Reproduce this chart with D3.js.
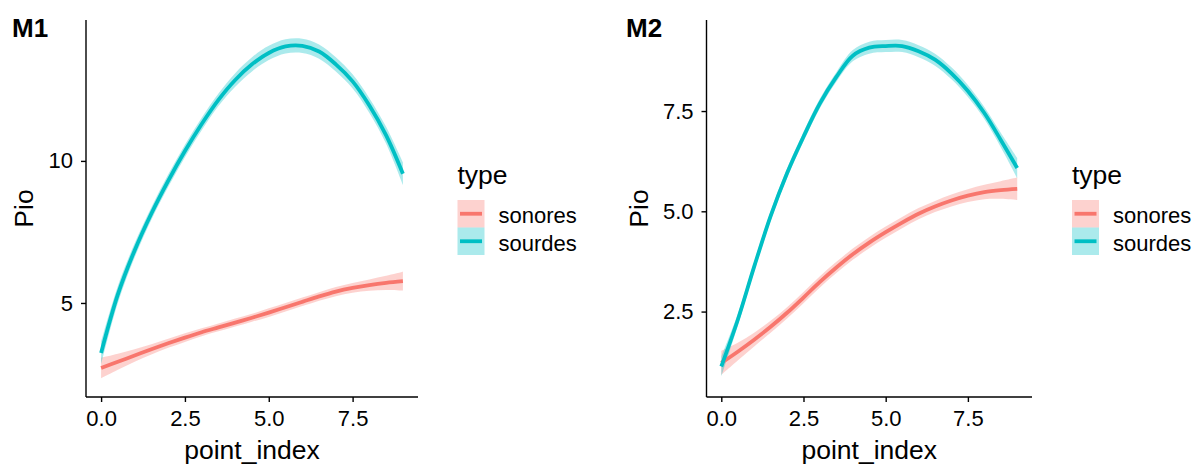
<!doctype html>
<html lang="en">
<head>
  <meta charset="utf-8">
  <title>Pio by point index</title>
  <script src="https://d3js.org/d3.v7.min.js"></script>
  <style>
  body { margin: 0; background: #fff; }
  text { font-family: "Liberation Sans", Arial, sans-serif; fill: #000; }
  .axis path, .axis line { stroke: #000; stroke-width: 1.4px; }
  </style>
</head>
<body>
<script>
  // x positions of the smoothed fits
  var pointIndex = [0, 0.5, 1, 1.5, 2, 2.5, 3, 3.5, 4, 4.5, 5, 5.5, 6, 6.5, 7, 7.5, 8, 8.5, 9];
  var types = ["sonores", "sourdes"];
  var typeColors = ["#F8766D", "#00BFC4"];

  // M1 fits (value) and half width of the confidence band
  var m1Sonores   = [2.71, 2.93, 3.15, 3.37, 3.58, 3.78, 3.97, 4.14, 4.31, 4.48, 4.66, 4.85, 5.04, 5.23, 5.40, 5.53, 5.63, 5.71, 5.77];
  var m1SonoresSe = [0.36, 0.28, 0.22, 0.18, 0.16, 0.15, 0.14, 0.14, 0.14, 0.14, 0.15, 0.15, 0.15, 0.15, 0.16, 0.17, 0.2, 0.25, 0.33];
  var m1Sourdes   = [3.24, 5.30, 6.85, 8.15, 9.30, 10.35, 11.30, 12.15, 12.85, 13.40, 13.80, 14.03, 14.05, 13.85, 13.40, 12.80, 11.95, 10.90, 9.55];
  var m1SourdesSe = [0.4, 0.3, 0.25, 0.22, 0.22, 0.22, 0.22, 0.22, 0.24, 0.25, 0.25, 0.25, 0.25, 0.25, 0.25, 0.25, 0.26, 0.3, 0.4];

  // M2
  var m2Sonores   = [1.22, 1.50, 1.80, 2.12, 2.47, 2.85, 3.24, 3.60, 3.93, 4.22, 4.48, 4.72, 4.94, 5.12, 5.27, 5.39, 5.48, 5.53, 5.56];
  var m2SonoresSe = [0.3, 0.22, 0.17, 0.15, 0.14, 0.14, 0.14, 0.14, 0.14, 0.14, 0.14, 0.14, 0.14, 0.14, 0.15, 0.16, 0.18, 0.22, 0.28];
  var m2Sourdes   = [1.13, 2.29, 3.62, 4.88, 5.95, 6.86, 7.69, 8.35, 8.88, 9.08, 9.12, 9.12, 8.99, 8.78, 8.44, 8.00, 7.45, 6.78, 6.08];
  var m2SourdesSe = [0.25, 0.15, 0.12, 0.12, 0.12, 0.12, 0.12, 0.12, 0.14, 0.15, 0.15, 0.15, 0.15, 0.15, 0.15, 0.15, 0.15, 0.18, 0.25];

  var xTicks = [0, 2.5, 5, 7.5];
  var m1YTicks = [5, 10];
  var m2YTicks = [2.5, 5, 7.5];

  var W = 1196, H = 466;
  var svg = d3.select("body").append("svg")
      .attr("width", W)
      .attr("height", H);

  var panels = [
    { tag: "M1", left: 86, right: 418, top: 20, bottom: 397,
      xdom: [-0.45, 9.45], ydom: [1.69, 14.96], yticks: m1YTicks, yfmt: d3.format("d"),
      series: [[m1Sonores, m1SonoresSe], [m1Sourdes, m1SourdesSe]],
      tagX: 12, titleX: 33, legendX: 457.5 },
    { tag: "M2", left: 706.5, right: 1032, top: 20, bottom: 397,
      xdom: [-0.45, 9.45], ydom: [0.37, 9.77], yticks: m2YTicks, yfmt: d3.format(".1f"),
      series: [[m2Sonores, m2SonoresSe], [m2Sourdes, m2SourdesSe]],
      tagX: 626, titleX: 648, legendX: 1072 }
  ];

  function drawPanel(p) {
    var x = d3.scaleLinear().domain(p.xdom).range([p.left, p.right]);
    var y = d3.scaleLinear().domain(p.ydom).range([p.bottom, p.top]);
    var g = svg.append("g");

    // bands first, then lines on top
    p.series.forEach(function(s, k) {
      var pts = pointIndex.map(function(v, i) { return {x: v, y: s[0][i], se: s[1][i]}; });
      var area = d3.area()
          .x(function(d) { return x(d.x); })
          .y0(function(d) { return y(d.y - d.se); })
          .y1(function(d) { return y(d.y + d.se); })
          .curve(d3.curveCatmullRom);
      g.append("path").datum(pts)
          .attr("d", area)
          .attr("fill", typeColors[k])
          .attr("fill-opacity", 0.33);
    });
    p.series.forEach(function(s, k) {
      var pts = pointIndex.map(function(v, i) { return {x: v, y: s[0][i]}; });
      var line = d3.line()
          .x(function(d) { return x(d.x); })
          .y(function(d) { return y(d.y); })
          .curve(d3.curveCatmullRom);
      g.append("path").datum(pts)
          .attr("d", line)
          .attr("fill", "none")
          .attr("stroke", typeColors[k])
          .attr("stroke-width", 3.8);
    });

    // axes
    var xa = g.append("g").attr("class", "axis")
        .attr("transform", "translate(0," + p.bottom + ")")
        .call(d3.axisBottom(x).tickValues(xTicks).tickFormat(d3.format(".1f"))
              .tickSize(5).tickSizeOuter(0).tickPadding(8));
    xa.selectAll("text").style("font-size", "22px");
    var ya = g.append("g").attr("class", "axis")
        .attr("transform", "translate(" + p.left + ",0)")
        .call(d3.axisLeft(y).tickValues(p.yticks).tickFormat(p.yfmt)
              .tickSize(5).tickSizeOuter(0).tickPadding(8));
    ya.selectAll("text").style("font-size", "22px");
    xa.select(".domain").attr("d", "M" + p.left + ",0H" + p.right);
    ya.select(".domain").attr("d", "M0," + p.top + "V" + p.bottom);

    // titles
    g.append("text")
        .attr("x", (p.left + p.right) / 2)
        .attr("y", 459)
        .attr("text-anchor", "middle")
        .style("font-size", "26.5px")
        .text("point_index");
    g.append("text")
        .attr("transform", "translate(" + p.titleX + "," + ((p.top + p.bottom) / 2) + ") rotate(-90)")
        .attr("text-anchor", "middle")
        .style("font-size", "26.5px")
        .text("Pio");
    g.append("text")
        .attr("x", p.tagX)
        .attr("y", 37)
        .style("font-size", "26px")
        .style("font-weight", "bold")
        .text(p.tag);

    // legend
    var lg = g.append("g").attr("transform", "translate(" + p.legendX + ",0)");
    lg.append("text")
        .attr("x", 0)
        .attr("y", 184)
        .style("font-size", "26.5px")
        .text("type");
    types.forEach(function(t, k) {
      var ky = 200 + k * 27.5;
      lg.append("rect")
          .attr("x", 0).attr("y", ky)
          .attr("width", 27).attr("height", 27.5)
          .attr("fill", typeColors[k])
          .attr("fill-opacity", 0.33);
      lg.append("line")
          .attr("x1", 2.5).attr("x2", 24.5)
          .attr("y1", ky + 13.75).attr("y2", ky + 13.75)
          .attr("stroke", typeColors[k])
          .attr("stroke-width", 3.8);
      lg.append("text")
          .attr("x", 41)
          .attr("y", ky + 23)
          .style("font-size", "22px")
          .text(t);
    });
  }

  panels.forEach(drawPanel);
</script>
</body>
</html>
